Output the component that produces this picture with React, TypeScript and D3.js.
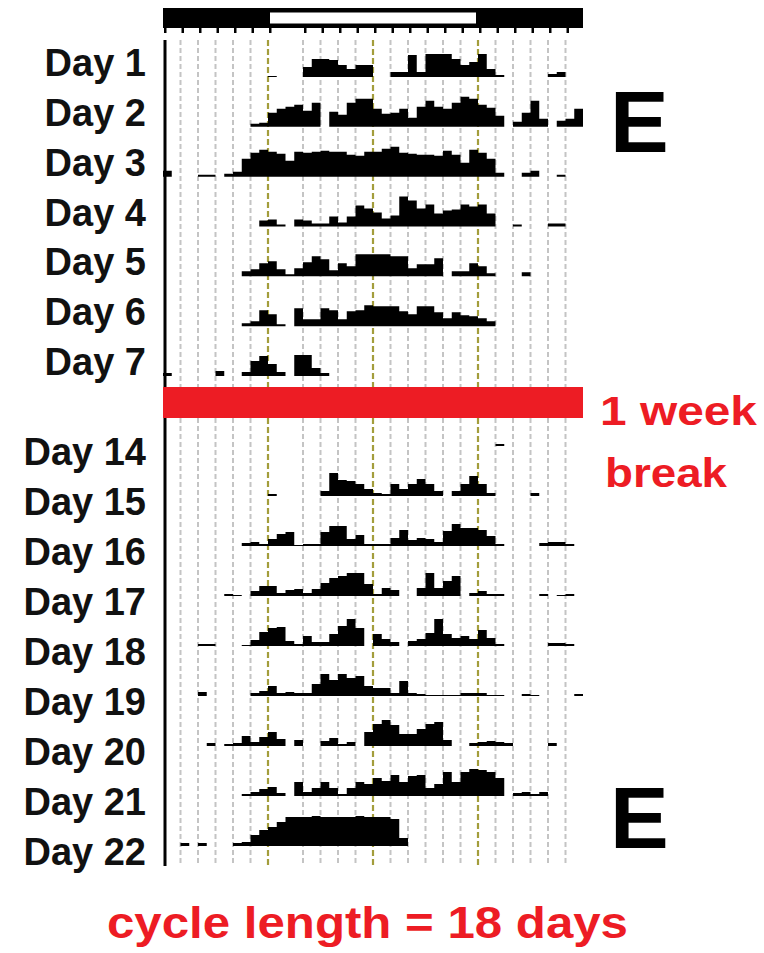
import React from 'react';
import * as d3 from 'd3';

// activity per 30-min bin (48 bins = 24 h), counts
const DAY_1 = [0,0,0,0,0,0,0,0,0,0,0,0, 1,0,0,0,10,18,18,17,12,8,12,12, 0,0,5,5,22,5,23,23,23,18,12,15, 23,8,2,0,0,0,0,0,3,5,0,0];
const DAY_2 = [0,0,0,0,0,0,0,0,0,0,3,4, 14,18,20,22,16,24,0,15,12,24,28,28, 18,13,14,18,9,20,26,20,18,24,30,28, 22,19,11,0,5,14,26,8,0,6,8,18];
const DAY_3 = [6,0,0,0,2,2,0,3,5,18,24,27, 25,23,16,25,24,25,26,25,25,22,21,25, 25,28,30,24,23,22,22,21,26,22,14,27, 24,18,4,0,0,4,6,0,0,2,0,0];
const DAY_4 = [0,0,0,0,0,0,0,0,0,0,0,6, 7,2,0,7,6,3,3,10,4,10,21,18, 14,8,11,30,26,18,22,13,16,17,22,20, 22,13,0,0,2,0,0,0,3,3,0,0];
const DAY_5 = [0,0,0,0,0,0,0,0,0,5,7,13, 15,7,2,8,14,20,17,6,13,10,22,22, 22,22,20,20,8,12,12,18,0,5,5,13, 10,3,0,0,0,4,0,0,0,0,0,0];
const DAY_6 = [0,0,0,0,0,0,0,0,0,3,5,16, 12,2,0,18,7,7,18,16,7,15,16,21, 20,20,20,15,12,20,20,14,8,14,11,10, 8,5,0,0,0,0,0,0,0,0,0,0];
const DAY_7 = [3,0,0,0,0,0,5,0,0,4,15,20, 12,4,0,21,21,8,3,0,0,0,0,0, 0,0,0,0,0,0,0,0,0,0,0,0, 0,0,0,0,0,0,0,0,0,0,0,0];

const DAY_14 = [0,0,0,0,0,0,0,0,0,0,0,0, 0,0,0,0,0,0,0,0,0,0,0,0, 0,0,0,0,0,0,0,0,0,0,0,0, 0,0,2,0,0,0,0,0,0,0,0,0];
const DAY_15 = [0,0,0,0,0,0,0,0,0,0,0,0, 2,0,0,0,0,0,5,23,16,15,12,7, 3,2,12,7,12,17,12,5,0,5,12,20, 12,3,0,0,0,0,3,0,0,0,0,0];
const DAY_16 = [0,0,0,0,0,0,0,0,0,3,4,2, 7,12,14,1,2,2,14,20,20,7,11,2, 2,2,8,16,6,8,7,4,15,22,18,18, 16,10,2,0,0,0,0,3,4,4,2,0];
const DAY_17 = [0,0,0,0,0,0,0,2,1,0,5,10, 10,3,6,7,3,7,13,18,20,23,23,12, 2,8,6,0,0,8,23,8,15,20,0,3, 5,2,2,0,0,0,0,2,0,1,2,0];
const DAY_18 = [0,0,0,0,2,2,0,0,0,1,6,14, 18,19,5,2,10,4,4,12,20,27,18,0, 12,7,4,0,5,7,13,27,12,8,10,7, 16,8,2,0,0,0,0,0,3,3,2,0];
const DAY_19 = [0,0,0,0,4,0,0,0,0,0,3,5, 10,3,4,3,3,12,22,16,22,18,20,10, 8,8,3,15,3,2,1,1,1,1,3,3, 3,1,1,0,0,2,1,0,0,0,0,2];
const DAY_20 = [0,0,0,0,0,3,0,2,3,10,4,9, 14,7,0,6,0,0,5,8,2,4,0,14, 22,26,21,12,12,17,22,24,6,0,0,3, 4,5,4,3,0,0,0,0,3,0,0,0];
const DAY_21 = [0,0,0,0,0,0,0,0,0,2,4,7, 9,3,0,14,4,8,14,8,2,8,14,12, 18,15,21,14,20,21,8,12,24,14,24,27, 26,24,18,0,3,4,2,4,0,0,0,0];
const DAY_22 = [0,0,3,0,3,0,0,0,3,4,11,16, 19,24,29,29,29,30,29,29,29,29,30,29, 29,29,27,8,0,0,0,0,0,0,0,0, 0,0,0,0,0,0,0,0,0,0,0,0];

const TOP_LABELS = ['Day 1', 'Day 2', 'Day 3', 'Day 4', 'Day 5', 'Day 6', 'Day 7'];
const TOP_DATA = [DAY_1, DAY_2, DAY_3, DAY_4, DAY_5, DAY_6, DAY_7];
const BOTTOM_LABELS = ['Day 14', 'Day 15', 'Day 16', 'Day 17', 'Day 18', 'Day 19', 'Day 20', 'Day 21', 'Day 22'];
const BOTTOM_DATA = [DAY_14, DAY_15, DAY_16, DAY_17, DAY_18, DAY_19, DAY_20, DAY_21, DAY_22];

// hour grid (the source figure has no line at 7 h)
const GRID_HOURS = [1, 2, 3, 4, 5, 8, 9, 10, 11, 13, 14, 15, 16, 17, 19, 20, 21, 22, 23];
const PHASE_HOURS = [6, 12, 18];
const TICK_HOURS = [0, 1, 2, 3, 4, 5, 6, 8, 9, 10, 11, 12, 13, 14, 15, 16, 17, 18, 19, 20, 21, 22, 23];
const LIGHT_ON = 6;
const LIGHT_OFF = 18;

const RED = '#ed1c24';
const OLIVE = '#a39d3c';
const GREY = '#c4c4c4';
const FONT = '"Liberation Sans", Arial, sans-serif';

const width = 764;
const height = 953;

const x = d3.scaleLinear().domain([0, 24]).range([163, 583]);
const h = d3.scaleLinear().domain([0, 30]).range([0, 30]);

const topRows = d3.scalePoint<string>().domain(TOP_LABELS).range([77, 376]);
const bottomRows = d3.scalePoint<string>().domain(BOTTOM_LABELS).range([446, 846]);

const rowPath = (values: number[], base: number) => {
  const pts = values.concat([0]);
  return d3.area<number>()
    .x((d, i) => x(i / 2))
    .y0(base)
    .y1((d) => base - h(d))
    .curve(d3.curveStepAfter)(pts) || '';
};

const Panel = ({ labels, data, rows, y0, y1, labelOffset }: any) => (
  <g>
    {GRID_HOURS.map((hr) => (
      <line key={'g' + hr} x1={x(hr)} x2={x(hr)} y1={y0} y2={y1}
        stroke={GREY} strokeWidth={2} strokeDasharray="5,3" />
    ))}
    {PHASE_HOURS.map((hr) => (
      <line key={'p' + hr} x1={x(hr)} x2={x(hr)} y1={y0} y2={y1}
        stroke={OLIVE} strokeWidth={2.2} strokeDasharray="6,3" />
    ))}
    <line x1={x(0) + 2} x2={x(0) + 2} y1={y0} y2={y1} stroke="#000" strokeWidth={3} />
    {labels.map((lab: string, i: number) => (
      <g key={lab}>
        <path d={rowPath(data[i], rows(lab))} fill="#000" />
        <text x={146} y={rows(lab) + labelOffset} textAnchor="end"
          fontFamily={FONT} fontWeight="bold" fontSize={38} fill="#111">{lab}</text>
      </g>
    ))}
  </g>
);

export default function App() {
  return (
    <svg width={width} height={height} style={{ position: 'absolute', left: 0, top: 0 }}>
      <rect width={width} height={height} fill="#fff" />

      {/* light/dark bar */}
      <rect x={x(0)} y={8} width={x(24) - x(0)} height={20} fill="#000" />
      <rect x={x(LIGHT_ON) + 2} y={12.5} width={x(LIGHT_OFF) - x(LIGHT_ON) - 4} height={11} fill="#fff" />
      {TICK_HOURS.map((hr) => (
        <rect key={'t' + hr} x={x(hr) + 1} y={27} width={2.5} height={6} fill="#000" />
      ))}

      <Panel labels={TOP_LABELS} data={TOP_DATA} rows={topRows} y0={40} y1={387} labelOffset={-1} />
      <Panel labels={BOTTOM_LABELS} data={BOTTOM_DATA} rows={bottomRows} y0={418} y1={866} labelOffset={19} />

      {/* break marker */}
      <rect x={x(0)} y={387} width={x(24) - x(0)} height={31} fill={RED} />
      <text x={600} y={425} fontFamily={FONT} fontWeight="bold" fontSize={40} fill={RED}
        textLength={157} lengthAdjust="spacingAndGlyphs">1 week</text>
      <text x={605} y={487} fontFamily={FONT} fontWeight="bold" fontSize={40} fill={RED}
        textLength={122} lengthAdjust="spacingAndGlyphs">break</text>

      <text x={610} y={152} fontFamily={FONT} fontWeight="bold" fontSize={88} fill="#000">E</text>
      <text x={610} y={848} fontFamily={FONT} fontWeight="bold" fontSize={88} fill="#000">E</text>

      <text x={107} y={938} fontFamily={FONT} fontWeight="bold" fontSize={44} fill={RED}
        textLength={521} lengthAdjust="spacingAndGlyphs">cycle length = 18 days</text>
    </svg>
  );
}
